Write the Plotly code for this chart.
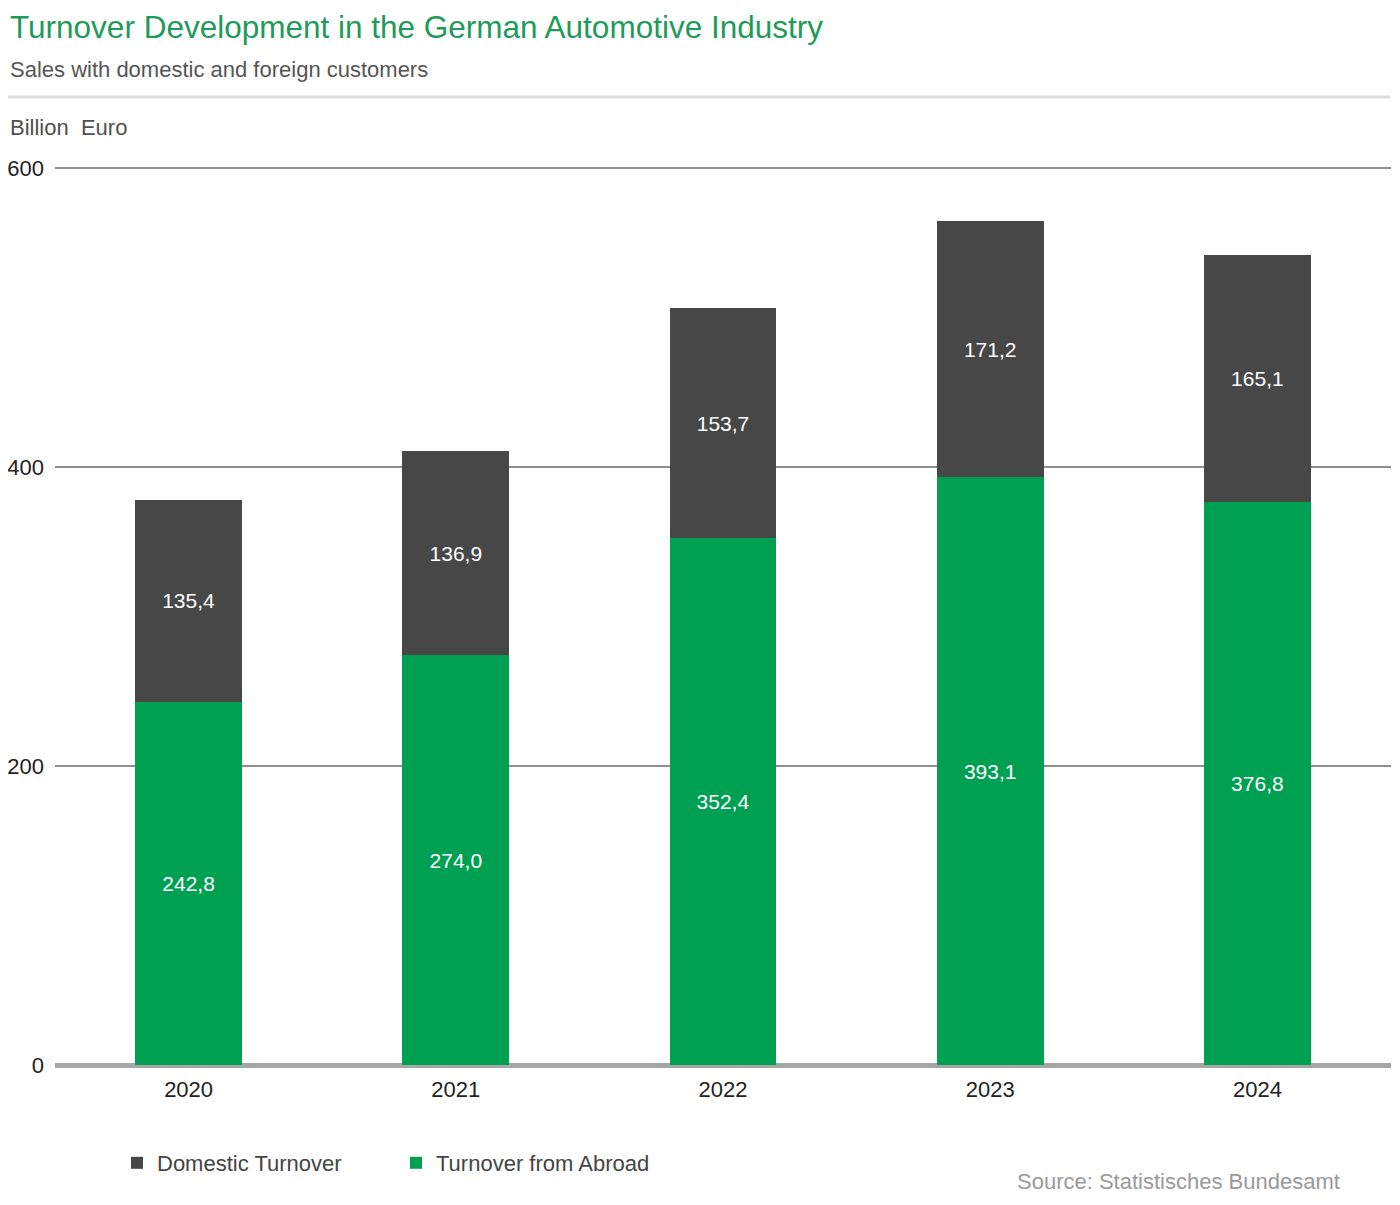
import plotly.graph_objects as go

# Data (billion euro)
years = ['2020', '2021', '2022', '2023', '2024']
abroad = [242.8, 274.0, 352.4, 393.1, 376.8]
domestic = [135.4, 136.9, 153.7, 171.2, 165.1]
y_ticks = [0, 200, 400, 600]

GREEN = '#00A052'
DARK = '#474747'
FONT = 'Liberation Sans, Arial, sans-serif'


def fmt(v):
    return f'{v:.1f}'.replace('.', ',')


fig = go.Figure()

fig.add_trace(go.Bar(
    x=years, y=abroad,
    name='Turnover from Abroad',
    marker=dict(color=GREEN, line_width=0),
    text=[fmt(v) for v in abroad],
    textposition='inside',
    insidetextanchor='middle',
    textfont=dict(color='white', size=21, family=FONT),
    hoverinfo='skip'
))

fig.add_trace(go.Bar(
    x=years, y=domestic,
    name='Domestic Turnover',
    marker=dict(color=DARK, line_width=0),
    text=[fmt(v) for v in domestic],
    textposition='inside',
    insidetextanchor='middle',
    textfont=dict(color='white', size=21, family=FONT),
    hoverinfo='skip'
))

# page has an 8px body margin, so the figure is 8px smaller than the window
# plot area in page pixels: x 55..1391, y(600)=168, y(0)=1065
# the plot area is a bit taller than 600 so the top gridline is drawn
H = 905.0
W = 1336.0
L = 55.0
y_top = 600 * H / 897.0


def px(x):
    return (x - L) / W


def py(y):
    return (1065 - y) / H


# Title and texts (kept just inside the figure's edges)
fig.add_annotation(text='Turnover Development in the German Automotive Industry',
                   x=px(8), y=py(27), xref='paper', yref='paper',
                   xanchor='left', yanchor='middle', showarrow=False,
                   font=dict(size=31.5, color='#1E9A5A', family=FONT))
fig.add_annotation(text='Sales with domestic and foreign customers',
                   x=px(8), y=py(69), xref='paper', yref='paper',
                   xanchor='left', yanchor='middle', showarrow=False,
                   font=dict(size=22, color='#555555', family=FONT))
fig.add_annotation(text='Billion  Euro',
                   x=px(8), y=py(127), xref='paper', yref='paper',
                   xanchor='left', yanchor='middle', showarrow=False,
                   font=dict(size=22, color='#505050', family=FONT))
fig.add_annotation(text='Source: Statistisches Bundesamt',
                   x=px(1342), y=py(1181), xref='paper', yref='paper',
                   xanchor='right', yanchor='middle', showarrow=False,
                   font=dict(size=22, color='#999999', family=FONT))

# Separator line under subtitle
fig.add_shape(type='line', xref='paper', yref='paper',
              x0=px(0), x1=px(1390), y0=py(97), y1=py(97),
              line=dict(color='#DDDDDD', width=3))

fig.update_layout(
    width=1392, height=1197,
    barmode='stack',
    bargap=0.6,
    plot_bgcolor='white',
    paper_bgcolor='white',
    margin=dict(l=47, r=9, t=152, b=140, autoexpand=False),
    font=dict(family=FONT, color='#222222', size=22),
    xaxis=dict(
        showgrid=False, showline=False, ticks='',
        tickfont=dict(size=22, color='#222222'),
        ticklabelstandoff=9,
        automargin=False,
        fixedrange=True
    ),
    yaxis=dict(
        range=[0, y_top],
        tickvals=y_ticks,
        showgrid=True, gridcolor='#8F8F8F', gridwidth=2,
        zeroline=True, zerolinecolor='#A6A6A6', zerolinewidth=5,
        showline=False, ticks='',
        tickfont=dict(size=22, color='#222222'),
        ticklabelstandoff=10,
        automargin=False,
        fixedrange=True
    ),
    legend=dict(
        orientation='h', traceorder='reversed',
        x=px(117), y=py(1163), xanchor='left', yanchor='middle',
        font=dict(size=22, color='#444444', family=FONT),
        itemwidth=30,
        entrywidth=234,
        bgcolor='rgba(0,0,0,0)'
    ),
    showlegend=True
)

fig.write_html('out.html')
